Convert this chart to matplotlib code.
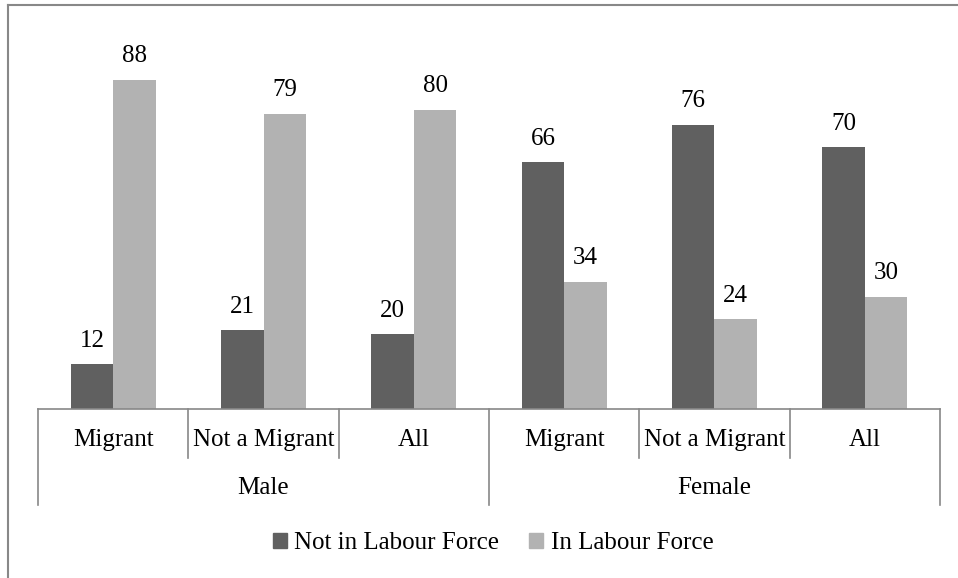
import matplotlib.pyplot as plt
from matplotlib.lines import Line2D
from matplotlib.patches import Patch

# data
groups = ['Male', 'Female']
categories = ['Migrant', 'Not a Migrant', 'All', 'Migrant', 'Not a Migrant', 'All']
not_in_lf = [12, 21, 20, 66, 76, 70]
in_lf = [88, 79, 80, 34, 24, 30]
series_names = ['Not in Labour Force', 'In Labour Force']

dark = '#606060'
light = '#b2b2b2'
edge = '#888888'

plt.rcParams['font.family'] = ['Liberation Serif', 'DejaVu Serif']
fs = 18

fig = plt.figure(figsize=(9.58, 5.78), dpi=100)
ax = fig.add_axes([38 / 958, (578 - 409) / 578, (940 - 38) / 958, (409 - 35) / 578])

x = list(range(len(categories)))
w = 0.283
b1 = ax.bar([i - w / 2 for i in x], not_in_lf, width=w, color=dark)
b2 = ax.bar([i + w / 2 for i in x], in_lf, width=w, color=light)

for bars, vals in [(b1, not_in_lf), (b2, in_lf)]:
    for r, v in zip(bars, vals):
        ax.annotate(str(v), (r.get_x() + r.get_width() / 2, v), xytext=(0, 9),
                    textcoords='offset points', ha='center', va='bottom', fontsize=fs)

ax.set_xlim(-0.5, len(categories) - 0.5)
ax.set_ylim(0, 100)
for s in ['left', 'right', 'top']:
    ax.spines[s].set_visible(False)
ax.spines['bottom'].set_color(edge)
ax.spines['bottom'].set_linewidth(1.2)
ax.set_xticks([])
ax.set_yticks([])

tr = ax.get_xaxis_transform()
# category labels and separators
for i, c in enumerate(categories):
    ax.text(i, -0.083, c, transform=tr, ha='center', va='center', fontsize=fs)
for b in range(len(categories) + 1):
    xb = b - 0.5
    low = -0.257 if b % 3 == 0 else -0.131
    ax.plot([xb, xb], [0, low], transform=tr, color=edge, lw=1.2, clip_on=False)
# group labels
for g, name in enumerate(groups):
    ax.text(g * 3 + 1, -0.211, name, transform=tr, ha='center', va='center', fontsize=fs)

handles = [Patch(color=dark), Patch(color=light)]
fig.legend(handles, series_names, loc='center', bbox_to_anchor=(0.515, 0.06), ncol=2,
           frameon=False, fontsize=fs, handlelength=0.55, handleheight=0.55,
           handletextpad=0.3, columnspacing=1.2)

# outer chart border
fig.add_artist(Line2D([8 / 958, 8 / 958], [0, 1 - 5 / 578], color=edge, lw=1.5))
fig.add_artist(Line2D([8 / 958, 1], [1 - 5 / 578, 1 - 5 / 578], color=edge, lw=1.5))

fig.savefig('out.png', dpi=100)
